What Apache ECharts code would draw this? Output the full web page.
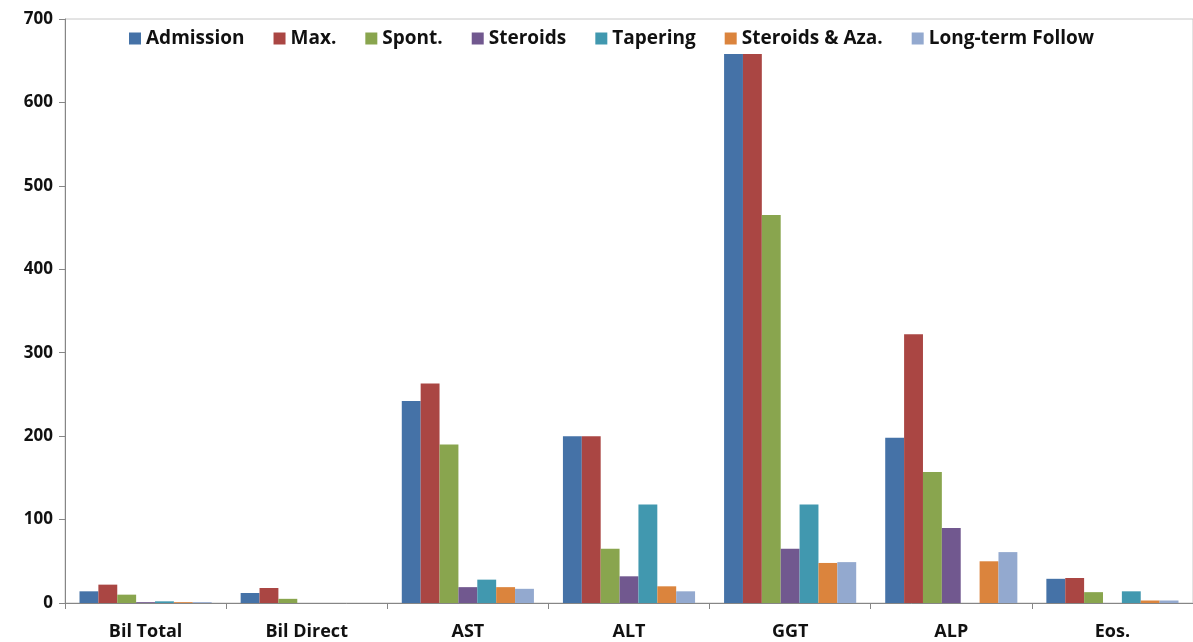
<!DOCTYPE html>
<html>
<head>
<meta charset="utf-8">
<script src="https://cdn.jsdelivr.net/npm/echarts@6/dist/echarts.min.js"></script>
<style>
	html, body { margin: 0; padding: 0; background: #fff; }
	#chart { width: 1193px; height: 642px; }
</style>
</head>
<body>
<div id="chart"></div>
<script>
var categories = ['Bil Total', 'Bil Direct', 'AST', 'ALT', 'GGT', 'ALP', 'Eos.'];
var seriesNames = ['Admission', 'Max.', 'Spont.', 'Steroids', 'Tapering', 'Steroids & Aza.', 'Long-term Follow'];

var admission = [14, 12, 242, 200, 658, 198, 29];
var maxValues = [22, 18, 263, 200, 658, 322, 30];
var spont = [10, 5, 190, 65, 465, 157, 13];
var steroids = [1, 0, 19, 32, 65, 90, 0];
var tapering = [2, 0, 28, 118, 118, 0, 14];
var steroidsAza = [1, 0, 19, 20, 48, 50, 3];
var longTerm = [1, 0, 17, 14, 49, 61, 3];

var colors = ['#4572A7', '#AA4643', '#89A54E', '#71588F', '#4198AF', '#DB843D', '#93A9CF'];

var chart = echarts.init(document.getElementById('chart'));

var allData = [admission, maxValues, spont, steroids, tapering, steroidsAza, longTerm];
var series = allData.map(function(values, i) {
	return {
		name: seriesNames[i],
		type: 'bar',
		data: values,
		barGap: '0%',
		barCategoryGap: '18%',
		itemStyle: { color: colors[i] },
	};
});

// bold labels everywhere, like the original
var labelFont = { fontWeight: 'bold', color: '#111', fontFamily: 'Open Sans' };

chart.setOption({
	animation: false,
	color: colors,
	legend: {
		top: 24,
		left: 124,
		itemWidth: 12,
		itemHeight: 12,
		itemGap: 29,
		icon: 'rect',
		textStyle: Object.assign({ fontSize: 19 }, labelFont),
		data: seriesNames,
	},
	grid: {
		left: 65,
		right: -6,
		top: 19,
		bottom: 39,
		show: true,
		borderColor: '#c8c8c8',
		borderWidth: 1,
	},
	xAxis: {
		type: 'category',
		data: categories,
		axisLine: { lineStyle: { color: '#868686' } },
		axisTick: { show: true, length: 6, lineStyle: { color: '#868686' } },
		axisLabel: Object.assign({ margin: 20, fontSize: 18 }, labelFont),
	},
	yAxis: {
		type: 'value',
		min: 0,
		max: 700,
		interval: 100,
		splitLine: { show: false },
		axisLine: { show: true, lineStyle: { color: '#868686' } },
		axisTick: { show: true, length: 6, lineStyle: { color: '#868686' } },
		axisLabel: Object.assign({ margin: 12, fontSize: 17 }, labelFont),
	},
	series: series,
});
</script>
</body>
</html>
